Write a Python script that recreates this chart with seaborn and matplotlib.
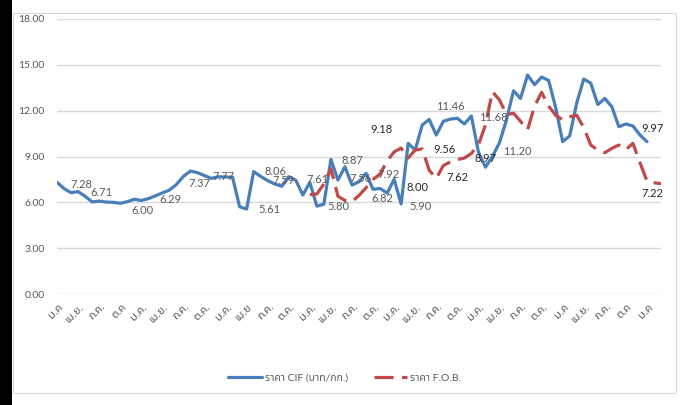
import numpy as np
import pandas as pd
import matplotlib
matplotlib.use("Agg")
import matplotlib.pyplot as plt
import seaborn as sns
from matplotlib import font_manager
from matplotlib.ft2font import FT2Font
from matplotlib.patches import Rectangle
from matplotlib.lines import Line2D

# ---------------- data ----------------
n_months = 87
cif_price = [7.31, 6.9, 6.63, 6.70, 6.40, 6.03, 6.08, 6.02, 6.0, 5.94,
             6.04, 6.2, 6.12, 6.24, 6.42, 6.62, 6.80, 7.17, 7.7, 8.05,
             7.94, 7.75, 7.57, 7.67, 7.66, 7.64, 5.71, 5.56, 8.01, 7.7,
             7.42, 7.2, 7.05, 7.68, 7.45, 6.48, 7.3, 5.75, 5.88, 8.81,
             7.46, 8.33, 7.13, 7.35, 7.9, 6.85, 6.91, 6.6, 7.5, 5.89,
             9.86, 9.42, 11.06, 11.43, 10.4, 11.3, 11.45, 11.5, 11.13, 11.65,
             9.3, 8.3, 9.0, 9.9, 11.4, 13.3, 12.8, 14.33, 13.7, 14.2,
             13.98, 12.2, 9.97, 10.35, 12.5, 14.07, 13.8, 12.4, 12.8, 12.26,
             10.95, 11.13, 11.0, 10.41, 9.97]
fob_start = 36
fob_price = [6.5, 6.55, 7.2, 8.2, 6.4, 6.12, 6.05, 6.45, 6.95, 7.5,
             7.85, 8.7, 9.3, 9.55, 8.9, 9.42, 9.5, 8.1, 7.57, 8.4,
             8.65, 8.8, 8.9, 9.2, 9.75, 11.06, 13.24, 12.7, 11.75, 11.83,
             11.3, 10.75, 12.3, 13.2, 12.3, 11.7, 11.4, 11.6, 11.7, 10.9,
             9.75, 9.42, 9.25, 9.53, 9.75, 9.45, 9.86, 8.6, 7.4, 7.28, 7.22]

month_labels = ["ม.ค", "เม.ย.", "ก.ค.", "ต.ค", "ม.ค.", "เม.ย.", "ก.ค.", "ต.ค.",
                "ม.ค.", "เม.ย", "ก.ค.", "ต.ค.", "ม.ค.", "เม.ย.", "ก.ค.", "ต.ค.",
                "ม.ค.", "เม.ย.", "ก.ค.", "ต.ค.", "ม.ค.", "เม.ย.", "ก.ค.", "ต.ค.",
                "ม.ค", "เม.ย.", "ก.ค.", "ต.ค", "ม.ค"]

series_names = ["ราคา CIF (บาท/กก.)", "ราคา F.O.B."]

# data labels (text, category position, value position, dark?)
label_text = ["7.28", "6.71", "6.00", "6.29", "7.37", "7.77", "5.61", "8.06", "7.59",
              "7.61", "5.80", "8.87", "7.56", "7.92", "6.82", "9.18", "8.00", "5.90",
              "11.46", "9.56", "7.62", "8.97", "11.68", "11.20", "9.97", "7.22"]
label_x = [3.42, 6.37, 12.21, 16.2, 20.23, 23.69, 30.24, 31.1, 32.3,
           37.04, 40.07, 42.12, 43.26, 47.19, 46.25, 46.25, 51.32, 51.81,
           55.98, 55.13, 57.02, 60.97, 62.15, 65.48, 84.76, 84.76]
label_y = [7.18, 6.66, 5.45, 6.20, 7.24, 7.72, 5.50, 8.03, 7.42,
           7.49, 5.71, 8.77, 7.53, 7.85, 6.26, 10.78, 6.98, 5.76,
           12.30, 9.47, 7.64, 8.88, 11.56, 9.31, 10.84, 6.59]
label_dark = [0, 0, 0, 0, 0, 0, 0, 0, 0,
              0, 0, 0, 0, 0, 0, 1, 1, 0,
              0, 1, 1, 1, 0, 0, 1, 1]

# ---------------- fonts ----------------
def find_thai_font():
    found = []
    for f in font_manager.fontManager.ttflist:
        try:
            cm = FT2Font(f.fname).get_charmap()
        except Exception:
            continue
        if 0x0E04 in cm and 0x0E23 in cm and 0x0E32 in cm:
            found.append(f.name)
    found = sorted(set(found))
    for pref in ["Noto Sans Thai", "Noto Sans Thai UI", "Loma", "Garuda", "Tahoma", "Leelawadee UI"]:
        if pref in found:
            return pref
    return found[0] if found else None

sns.set_theme(style="white")
thai = find_thai_font()
fam = ["Lato"] + ([thai] if thai else []) + ["DejaVu Sans"]
plt.rcParams["font.family"] = fam

# ---------------- frame ----------------
W, H = 683, 405
fig = plt.figure(figsize=(W / 100, H / 100), dpi=100)
fig.patch.set_facecolor("white")
fig.patches.append(Rectangle((0, 0), 12 / W, 1, transform=fig.transFigure,
                             facecolor="black", edgecolor="none", zorder=0))
fig.patches.append(Rectangle((13 / W, 1 - 393 / H), (676 - 13) / W, (393 - 13) / H,
                             transform=fig.transFigure, fill=False,
                             edgecolor="#D9D9D9", linewidth=0.8, zorder=0))

ax = fig.add_axes([57 / W, 1 - 294 / H, (661 - 57) / W, (294 - 19) / H])
ax.set_facecolor("none")

rows = []
for i, v in enumerate(cif_price):
    rows.append({"idx": i, "value": v, "series": series_names[0]})
for j, v in enumerate(fob_price):
    rows.append({"idx": fob_start + j, "value": v, "series": series_names[1]})
df = pd.DataFrame(rows)

blue = "#4A7EBB"
red = "#BE4B48"
fob_dash = (6, 2.6)
sns.lineplot(data=df, x="idx", y="value", hue="series", style="series",
             palette={series_names[0]: blue, series_names[1]: red},
             dashes={series_names[0]: "", series_names[1]: fob_dash},
             linewidth=2.3, ax=ax, legend=False, estimator=None, sort=False)

ax.set_xlim(0, n_months - 1)
ax.set_ylim(0, 18)
ax.set_yticks(np.arange(0, 19, 3))
ax.yaxis.set_major_formatter(matplotlib.ticker.StrMethodFormatter("{x:.2f}"))
ax.set_xticks(np.arange(0, len(month_labels) * 3, 3))
ax.set_xticklabels(month_labels, rotation=45, ha="right", rotation_mode="anchor")
ax.tick_params(axis="both", length=0, labelsize=7.5, colors="#595959")
ax.tick_params(axis="x", labelsize=8)
ax.tick_params(axis="y", pad=9)
ax.tick_params(axis="x", pad=5)
ax.grid(False)
ax.yaxis.grid(True, color="#D9D9D9", linewidth=1.0)
ax.set_axisbelow(True)
for s in ax.spines.values():
    s.set_visible(False)
ax.set_xlabel("")
ax.set_ylabel("")

for t, x, y, d in zip(label_text, label_x, label_y, label_dark):
    ax.text(x, y, t, ha="center", va="center", fontsize=8,
            color="#262626" if d else "#595959", zorder=5)

handles = [Line2D([], [], color=blue, lw=2.3),
           Line2D([], [], color=red, lw=2.3, dashes=fob_dash)]
fig.legend(handles, series_names, loc="center", bbox_to_anchor=(345 / W, 1 - 378 / H),
           ncol=2, frameon=False, handlelength=3.2, columnspacing=2.5,
           fontsize=7.5, labelcolor="#595959", handletextpad=0.3)

fig.savefig("out.png", dpi=100, facecolor="white")
